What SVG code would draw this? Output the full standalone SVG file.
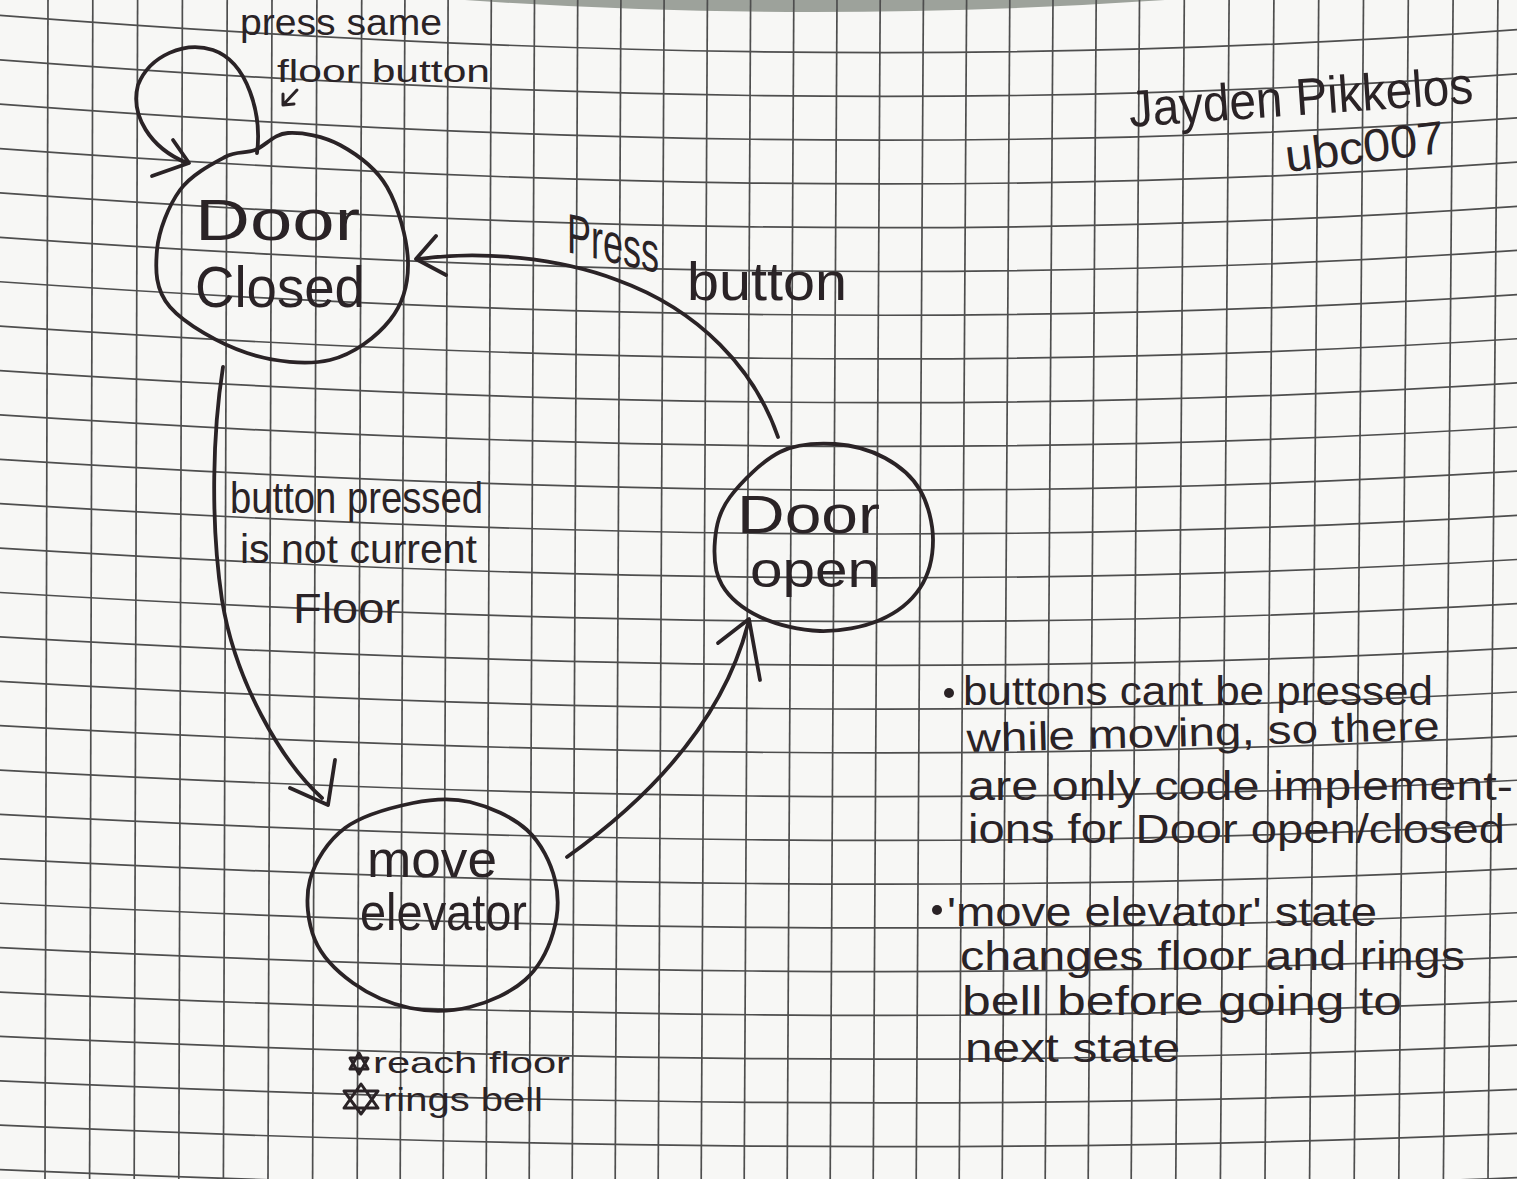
<svg xmlns="http://www.w3.org/2000/svg" width="1517" height="1179" viewBox="0 0 1517 1179">
  <style>
    .gl { fill: none; stroke: #4e4e4e; stroke-width: 1.7; }
    .ink { fill: none; stroke: #2a2326; stroke-width: 3.8; stroke-linecap: round; stroke-linejoin: round; }
    .pen { fill: none; stroke: #2a2326; stroke-width: 3; stroke-linecap: round; stroke-linejoin: round; }
    .hand { font-family: "Liberation Sans", Arial, sans-serif; fill: #2a2326; }
  </style>

  <!-- paper -->
  <rect width="1517" height="1179" fill="#f7f7f5"/>
  <path d="M465,0 Q810,24 1165,0 Z" fill="#9da29b"/>

  <!-- graph paper: horizontal rules sag slightly, vertical rules lean -->
  <g id="grid">
    <path class="gl" d="M-5,15 C500,54.4 1000,68.7 1522,29.3"/>
    <path class="gl" d="M-5,59.4 C500,98.1 1000,112.2 1522,73.5"/>
    <path class="gl" d="M-5,103.8 C500,141.9 1000,155.7 1522,117.6"/>
    <path class="gl" d="M-5,148.2 C500,185.6 1000,199.2 1522,161.8"/>
    <path class="gl" d="M-5,192.6 C500,229.3 1000,242.7 1522,206"/>
    <path class="gl" d="M-5,237 C500,273.1 1000,286.2 1522,250.1"/>
    <path class="gl" d="M-5,281.4 C500,316.8 1000,329.7 1522,294.3"/>
    <path class="gl" d="M-5,325.8 C500,360.5 1000,373.1 1522,338.4"/>
    <path class="gl" d="M-5,370.2 C500,404.2 1000,416.6 1522,382.6"/>
    <path class="gl" d="M-5,414.6 C500,447.9 1000,460.1 1522,426.7"/>
    <path class="gl" d="M-5,459 C500,491.7 1000,503.6 1522,470.9"/>
    <path class="gl" d="M-5,503.4 C500,535.4 1000,547.1 1522,515"/>
    <path class="gl" d="M-5,547.8 C500,579.2 1000,590.6 1522,559.2"/>
    <path class="gl" d="M-5,592.2 C500,622.9 1000,634.1 1522,603.4"/>
    <path class="gl" d="M-5,636.6 C500,666.6 1000,677.6 1522,647.5"/>
    <path class="gl" d="M-5,681 C500,710.4 1000,721.1 1522,691.7"/>
    <path class="gl" d="M-5,725.4 C500,754.1 1000,764.6 1522,735.8"/>
    <path class="gl" d="M-5,769.8 C500,797.9 1000,808.1 1522,780"/>
    <path class="gl" d="M-5,814.2 C500,841.6 1000,851.6 1522,824.2"/>
    <path class="gl" d="M-5,858.6 C500,885.3 1000,895.1 1522,868.3"/>
    <path class="gl" d="M-5,903 C500,929.1 1000,938.6 1522,912.5"/>
    <path class="gl" d="M-5,947.4 C500,972.7 1000,981.9 1522,956.6"/>
    <path class="gl" d="M-5,991.8 C500,1016.4 1000,1025.4 1522,1000.8"/>
    <path class="gl" d="M-5,1036.2 C500,1060.2 1000,1068.9 1522,1044.9"/>
    <path class="gl" d="M-5,1080.6 C500,1103.9 1000,1112.4 1522,1089.1"/>
    <path class="gl" d="M-5,1125 C500,1147.7 1000,1155.9 1522,1133.2"/>
    <path class="gl" d="M-5,1169.4 C500,1191.4 1000,1199.4 1522,1177.4"/>

    <line class="gl" x1="48" y1="0" x2="45" y2="1179"/>
    <line class="gl" x1="92.8" y1="0" x2="89.6" y2="1179"/>
    <line class="gl" x1="137.6" y1="0" x2="134.2" y2="1179"/>
    <line class="gl" x1="182.4" y1="0" x2="178.8" y2="1179"/>
    <line class="gl" x1="227.2" y1="0" x2="223.4" y2="1179"/>
    <line class="gl" x1="272" y1="0" x2="268" y2="1179"/>
    <line class="gl" x1="316.9" y1="0" x2="312.6" y2="1179"/>
    <line class="gl" x1="361.7" y1="0" x2="357.2" y2="1179"/>
    <line class="gl" x1="404.9" y1="0" x2="400.2" y2="1179"/>
    <line class="gl" x1="448.1" y1="0" x2="443.2" y2="1179"/>
    <line class="gl" x1="491.3" y1="0" x2="486.2" y2="1179"/>
    <line class="gl" x1="534.5" y1="0" x2="529.2" y2="1179"/>
    <line class="gl" x1="577.7" y1="0" x2="572.2" y2="1179"/>
    <line class="gl" x1="620.9" y1="0" x2="615.2" y2="1179"/>
    <line class="gl" x1="664.1" y1="0" x2="658.2" y2="1179"/>
    <line class="gl" x1="707.4" y1="0" x2="701.2" y2="1179"/>
    <line class="gl" x1="750.6" y1="0" x2="744.2" y2="1179"/>
    <line class="gl" x1="793.8" y1="0" x2="787.2" y2="1179"/>
    <line class="gl" x1="837" y1="0" x2="830.2" y2="1179"/>
    <line class="gl" x1="880.2" y1="0" x2="873.2" y2="1179"/>
    <line class="gl" x1="923.4" y1="0" x2="916.2" y2="1179"/>
    <line class="gl" x1="966.6" y1="0" x2="959.2" y2="1179"/>
    <line class="gl" x1="1009.8" y1="0" x2="1002.2" y2="1179"/>
    <line class="gl" x1="1053" y1="0" x2="1045.2" y2="1179"/>
    <line class="gl" x1="1096.2" y1="0" x2="1088.2" y2="1179"/>
    <line class="gl" x1="1139.5" y1="0" x2="1131.2" y2="1179"/>
    <line class="gl" x1="1184.3" y1="0" x2="1175.8" y2="1179"/>
    <line class="gl" x1="1229.1" y1="0" x2="1220.4" y2="1179"/>
    <line class="gl" x1="1273.9" y1="0" x2="1265" y2="1179"/>
    <line class="gl" x1="1318.7" y1="0" x2="1309.6" y2="1179"/>
    <line class="gl" x1="1363.5" y1="0" x2="1354.2" y2="1179"/>
    <line class="gl" x1="1408.3" y1="0" x2="1398.8" y2="1179"/>
    <line class="gl" x1="1453.1" y1="0" x2="1443.4" y2="1179"/>
    <line class="gl" x1="1497.9" y1="0" x2="1488" y2="1179"/>
  </g>

  <!-- transitions -->
  <g id="connectors">
    <!-- self loop on Door Closed -->
    <path class="ink" d="M257,153 C262,115 248,62 213,50 C185,41 150,55 138,85 C130,115 150,148 187,163"/>
    <path class="ink" d="M173,140 L189,163 L152,176"/>
    <!-- Door Closed -> move elevator -->
    <path class="ink" d="M223,367 C213,430 210,520 222,600 C235,680 280,760 322,798"/>
    <path class="ink" d="M290,788 L328,805 L335,760"/>
    <!-- move elevator -> Door open -->
    <path class="ink" d="M567,857 C640,805 720,730 748,624"/>
    <path class="ink" d="M718,643 L749,619 L760,680"/>
    <!-- Door open -> Door Closed -->
    <path class="ink" d="M778,437 C755,370 700,310 617,280 C560,258 480,250 420,259"/>
    <path class="ink" d="M436,236 L416,259 L446,275"/>
    <!-- pointer from the loop label -->
    <path class="pen" d="M297,90 L283,105 M283,94 L283,105 L294,104"/>
  </g>

  <!-- states -->
  <g id="door-closed">
    <path class="ink" d="M255,150 C265.5,146 273.8,133.8 288,133 C302.2,132.2 323.5,136 340,145 C356.5,154 375.7,167.5 387,187 C398.3,206.5 407.5,239.8 408,262 C408.5,284.2 403,303.7 390,320 C377,336.3 353.8,354.5 330,360 C306.2,365.5 273.7,361.8 247,353 C220.3,344.2 185,324.2 170,307 C155,289.8 155.3,269.5 157,250 C158.7,230.5 168.7,205.5 180,190 C191.3,174.5 212.5,163.7 225,157 C237.5,150.3 244.5,154 255,150 Z"/>
    <text class="hand" x="195" y="240" font-size="58" textLength="165" lengthAdjust="spacingAndGlyphs">Door</text>
    <text class="hand" x="195" y="307" font-size="58" textLength="170" lengthAdjust="spacingAndGlyphs">Closed</text>
  </g>

  <g id="door-open">
    <path class="ink" d="M780,452 C797.5,443.2 817.5,443 835,444 C852.5,445 870.8,450.3 885,458 C899.2,465.7 912,476.3 920,490 C928,503.7 933,523.7 933,540 C933,556.3 928.8,574.7 920,588 C911.2,601.3 896.7,612.8 880,620 C863.3,627.2 840,631.5 820,631 C800,630.5 776.3,624.7 760,617 C743.7,609.3 729.5,597.8 722,585 C714.5,572.2 713.7,554.7 715,540 C716.3,525.3 719.2,511.7 730,497 C740.8,482.3 762.5,460.8 780,452 Z"/>
    <text class="hand" x="737" y="533" font-size="54" textLength="143" lengthAdjust="spacingAndGlyphs">Door</text>
    <text class="hand" x="750" y="587" font-size="50" textLength="130" lengthAdjust="spacingAndGlyphs">open</text>
  </g>

  <g id="move-elevator">
    <path class="ink" d="M413,803 C433.8,798.7 451,797.5 470,802 C489,806.5 512.8,817 527,830 C541.2,843 550.7,862.8 555,880 C559.3,897.2 558,916.3 553,933 C548,949.7 538.8,967.7 525,980 C511.2,992.3 489.2,1002.3 470,1007 C450.8,1011.7 429.5,1012 410,1008 C390.5,1004 368.8,994.3 353,983 C337.2,971.7 322.2,957.2 315,940 C307.8,922.8 305,898.7 310,880 C315,861.3 327.8,840.8 345,828 C362.2,815.2 392.2,807.3 413,803 Z"/>
    <text class="hand" x="367" y="877" font-size="52" textLength="130" lengthAdjust="spacingAndGlyphs">move</text>
    <text class="hand" x="360" y="930" font-size="52" textLength="167" lengthAdjust="spacingAndGlyphs">elevator</text>
  </g>

  <!-- transition labels -->
  <g id="label-loop">
    <text class="hand" x="240" y="35" font-size="36" textLength="202" lengthAdjust="spacingAndGlyphs">press same</text>
    <text class="hand" x="277" y="82" font-size="32" textLength="213" lengthAdjust="spacingAndGlyphs">floor button</text>
  </g>
  <g id="label-press">
    <text class="hand" transform="translate(567,252) skewY(13)" x="0" y="0" font-size="56" textLength="92" lengthAdjust="spacingAndGlyphs">Press</text>
    <text class="hand" x="687" y="300" font-size="54" textLength="160" lengthAdjust="spacingAndGlyphs">button</text>
  </g>
  <g id="label-move">
    <text class="hand" x="230" y="513" font-size="44" textLength="253" lengthAdjust="spacingAndGlyphs">button pressed</text>
    <text class="hand" x="240" y="563" font-size="40" textLength="237" lengthAdjust="spacingAndGlyphs">is not current</text>
    <text class="hand" x="293" y="623" font-size="42" textLength="107" lengthAdjust="spacingAndGlyphs">Floor</text>
  </g>
  <g id="label-arrive">
    <path class="pen" d="M359,1053 L368,1069 L350,1069 Z M350,1058 L368,1058 L359,1074 Z" fill="#2a2326"/>
    <text class="hand" x="373" y="1073" font-size="30" textLength="197" lengthAdjust="spacingAndGlyphs">reach floor</text>
    <path class="pen" d="M361,1084 L378,1108 L344,1108 Z M344,1091 L378,1091 L361,1114 Z"/>
    <text class="hand" x="383" y="1111" font-size="34" textLength="160" lengthAdjust="spacingAndGlyphs">rings bell</text>
  </g>

  <!-- author -->
  <g id="author">
    <text class="hand" transform="rotate(-4 1130 127)" x="1130" y="127" font-size="52" textLength="345" lengthAdjust="spacingAndGlyphs">Jayden Pikkelos</text>
    <text class="hand" transform="rotate(-7 1287 172)" x="1287" y="172" font-size="46" textLength="160" lengthAdjust="spacingAndGlyphs">ubc007</text>
  </g>

  <!-- notes -->
  <g id="notes">
    <circle cx="949" cy="693" r="5" fill="#2a2326"/>
    <text class="hand" x="963" y="705" font-size="40" textLength="470" lengthAdjust="spacingAndGlyphs">buttons cant be pressed</text>
    <text class="hand" transform="rotate(-1.5 967 752)" x="967" y="752" font-size="40" textLength="473" lengthAdjust="spacingAndGlyphs">while moving, so there</text>
    <text class="hand" x="968" y="800" font-size="40" textLength="545" lengthAdjust="spacingAndGlyphs">are only code implement-</text>
    <text class="hand" x="968" y="843" font-size="40" textLength="537" lengthAdjust="spacingAndGlyphs">ions for Door open/closed</text>
    <circle cx="937" cy="910" r="5" fill="#2a2326"/>
    <text class="hand" x="947" y="926" font-size="40" textLength="430" lengthAdjust="spacingAndGlyphs">'move elevator' state</text>
    <text class="hand" x="960" y="970" font-size="40" textLength="505" lengthAdjust="spacingAndGlyphs">changes floor and rings</text>
    <text class="hand" x="962" y="1015" font-size="40" textLength="440" lengthAdjust="spacingAndGlyphs">bell before going to</text>
    <text class="hand" x="965" y="1062" font-size="40" textLength="215" lengthAdjust="spacingAndGlyphs">next state</text>
  </g>
</svg>
